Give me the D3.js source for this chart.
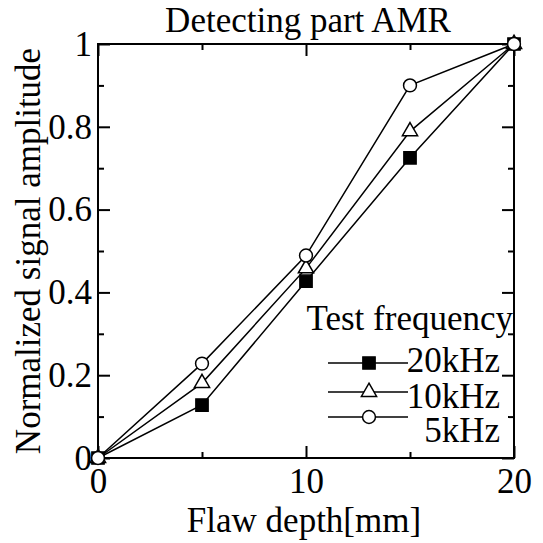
<!DOCTYPE html>
<html>
<head>
<meta charset="utf-8">
<script src="https://cdn.jsdelivr.net/npm/d3@7"></script>
<style>
  body { margin: 0; background: #fff; }
  text { font-family: "Liberation Serif", "Times New Roman", serif; fill: #000; }
</style>
</head>
<body>
<svg id="chart"></svg>
<script>
var width = 543,
    height = 543;

// data
var depth = [0, 5, 10, 15, 20];
var amp20k = [0, 0.128, 0.427, 0.725, 1];
var amp10k = [0, 0.181, 0.458, 0.789, 1];
var amp5k = [0, 0.228, 0.489, 0.900, 1];
var seriesNames = ['20kHz', '10kHz', '5kHz'];
var xMajor = [0, 10, 20], xMinor = [5, 15];
var yMajor = [0, 0.2, 0.4, 0.6, 0.8, 1], yMinor = [0.1, 0.3, 0.5, 0.7, 0.9];

var plotL = 98, plotR = 514, plotT = 44, plotB = 458;
var fs = 35;

var x = d3.scaleLinear([0, 20], [plotL, plotR]);
var y = d3.scaleLinear([0, 1], [plotB, plotT]);

var svg = d3.select('#chart')
  .attr('width', width)
  .attr('height', height);

svg.append('rect')
  .attr('width', width)
  .attr('height', height)
  .attr('fill', 'white');

// axes, ticks pointing inward
function addAxis(axis, tx, ty, size, labels) {
  var g = svg.append('g')
    .attr('transform', 'translate(' + tx + ',' + ty + ')')
    .call(axis.tickSize(-size));
  g.select('.domain').remove();
  g.selectAll('line').attr('stroke', '#000').attr('stroke-width', 2);
  g.selectAll('text')
    .style('font-size', fs + 'px')
    .style('font-family', '"Liberation Serif", serif');
  if (!labels) g.selectAll('text').remove();
  return g;
}

addAxis(d3.axisBottom(x).tickValues(xMajor).tickFormat(d3.format('d')).tickPadding(10), 0, plotB, 12, true);
addAxis(d3.axisBottom(x).tickValues(xMinor).tickFormat(''), 0, plotB, 6, false);
addAxis(d3.axisTop(x).tickValues(xMajor).tickFormat(''), 0, plotT, 12, false);
addAxis(d3.axisTop(x).tickValues(xMinor).tickFormat(''), 0, plotT, 6, false);
addAxis(d3.axisLeft(y).tickValues(yMajor).tickFormat(d3.format('~g')).tickPadding(6), plotL, 0, 12, true);
addAxis(d3.axisLeft(y).tickValues(yMinor).tickFormat(''), plotL, 0, 6, false);
addAxis(d3.axisRight(y).tickValues(yMajor).tickFormat(''), plotR, 0, 12, false);
addAxis(d3.axisRight(y).tickValues(yMinor).tickFormat(''), plotR, 0, 6, false);

// frame
svg.append('rect')
  .attr('x', plotL)
  .attr('y', plotT)
  .attr('width', plotR - plotL)
  .attr('height', plotB - plotT)
  .attr('fill', 'none')
  .attr('stroke', '#000')
  .attr('stroke-width', 2);

var line = d3.line()
  .x(function(d) { return x(d[0]); })
  .y(function(d) { return y(d[1]); });

var series = [amp20k, amp10k, amp5k].map(function(vals, i) {
  return { name: seriesNames[i], pts: depth.map(function(dp, j) { return [dp, vals[j]]; }) };
});

var symbols = [
  { type: d3.symbolSquare, size: 150, fill: '#000' },
  { type: d3.symbolTriangle, size: 100, fill: '#fff' },
  { type: d3.symbolCircle, size: 130, fill: '#fff' }
];

series.forEach(function(s) {
  svg.append('path')
    .attr('d', line(s.pts))
    .attr('fill', 'none')
    .attr('stroke', '#000')
    .attr('stroke-width', 1.5);
});

series.forEach(function(s, i) {
  var sym = d3.symbol().type(symbols[i].type).size(symbols[i].size);
  svg.append('g').selectAll('path')
    .data(s.pts)
    .join('path')
    .attr('transform', function(d) { return 'translate(' + x(d[0]) + ',' + y(d[1]) + ')'; })
    .attr('d', sym)
    .attr('fill', symbols[i].fill)
    .attr('stroke', '#000')
    .attr('stroke-width', 1.5);
});

// legend
svg.append('text')
  .attr('x', 513)
  .attr('y', 330)
  .attr('text-anchor', 'end')
  .style('font-size', fs + 'px')
  .text('Test frequency');

var legRows = [363, 392, 417];
var legText = [372, 408, 442];
series.forEach(function(s, i) {
  svg.append('line')
    .attr('x1', 328).attr('x2', 408)
    .attr('y1', legRows[i]).attr('y2', legRows[i])
    .attr('stroke', '#000')
    .attr('stroke-width', 1.5);
  svg.append('path')
    .attr('transform', 'translate(369,' + legRows[i] + ')')
    .attr('d', d3.symbol().type(symbols[i].type).size(symbols[i].size))
    .attr('fill', symbols[i].fill)
    .attr('stroke', '#000')
    .attr('stroke-width', 1.5);
  svg.append('text')
    .attr('x', 500)
    .attr('y', legText[i])
    .attr('text-anchor', 'end')
    .style('font-size', fs + 'px')
    .text(s.name);
});

// titles
svg.append('text')
  .attr('x', 308)
  .attr('y', 32)
  .attr('text-anchor', 'middle')
  .style('font-size', fs + 'px')
  .text('Detecting part AMR');

svg.append('text')
  .attr('x', 304)
  .attr('y', 532)
  .attr('text-anchor', 'middle')
  .style('font-size', fs + 'px')
  .text('Flaw depth[mm]');

svg.append('text')
  .attr('transform', 'translate(40,251) rotate(-90)')
  .attr('text-anchor', 'middle')
  .style('font-size', fs + 'px')
  .text('Normalized signal amplitude');
</script>
</body>
</html>
